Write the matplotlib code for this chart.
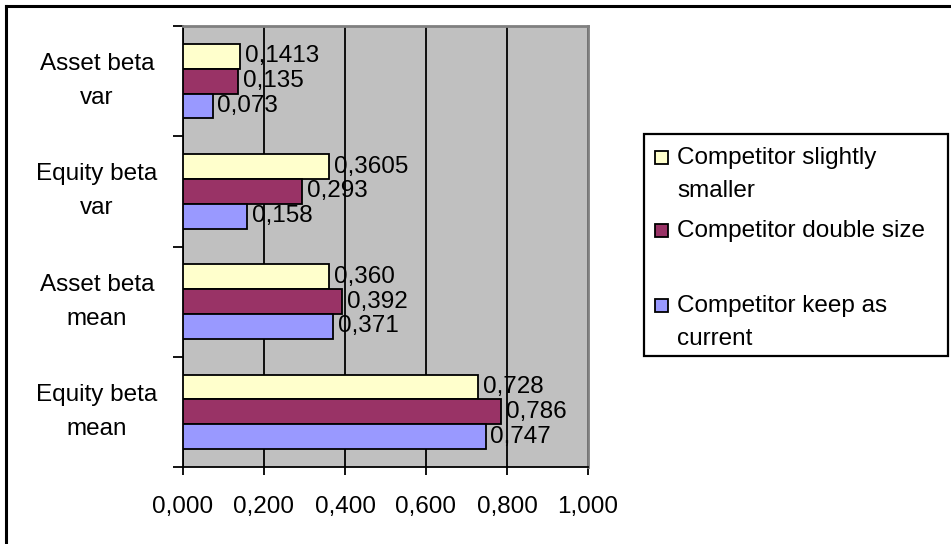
import numpy as np
import matplotlib.pyplot as plt
from matplotlib.patches import Rectangle
from matplotlib.lines import Line2D

plt.rcParams['font.family'] = ['Liberation Sans', 'DejaVu Sans']

categories = ['Equity beta\nmean', 'Asset beta\nmean', 'Equity beta\nvar', 'Asset beta\nvar']
series_names = ['Competitor slightly\nsmaller', 'Competitor double size', 'Competitor keep as\ncurrent']
colors = ['#FFFFCC', '#993366', '#9999FF']
smaller = [0.728, 0.360, 0.3605, 0.1413]
double = [0.786, 0.392, 0.293, 0.135]
keep = [0.747, 0.371, 0.158, 0.073]
smaller_lbl = ['0,728', '0,360', '0,3605', '0,1413']
double_lbl = ['0,786', '0,392', '0,293', '0,135']
keep_lbl = ['0,747', '0,371', '0,158', '0,073']
xticks = [0.0, 0.2, 0.4, 0.6, 0.8, 1.0]

W, H = 951, 544
fs = 17.5
fig = plt.figure(figsize=(W / 100, H / 100), dpi=100)

def fx(px):
    return px / W

def fy(py):
    return 1 - py / H

# outer chart frame (only top and left edges show)
fig.add_artist(Line2D([fx(6), fx(6)], [0, fy(6)], color='black', lw=2.2))
fig.add_artist(Line2D([fx(6), 1], [fy(6), fy(6)], color='black', lw=2.2))

ax = fig.add_axes([fx(183), fy(467), fx(588) - fx(183), fy(26) - fy(467)])
ax.set_facecolor('#C0C0C0')

y = np.arange(len(categories))
h = 0.225
offsets = [h, 0, -h]
data = [smaller, double, keep]
labels = [smaller_lbl, double_lbl, keep_lbl]
for vals, lbls, off, c, name in zip(data, labels, offsets, colors, series_names):
    bars = ax.barh(y + off, vals, height=h, color=c, edgecolor='black', lw=1.3,
                   label=name, zorder=3)
    for b, t in zip(bars, lbls):
        ax.text(b.get_width() + 0.012, b.get_y() + b.get_height() / 2, t,
                va='center', ha='left', fontsize=fs, zorder=4)

ax.set_xlim(0, 1.0)
ax.set_ylim(-0.5, len(categories) - 0.5)
ax.set_xticks(xticks)
ax.set_xticklabels(['{:.3f}'.format(v).replace('.', ',') for v in xticks], fontsize=fs)
ax.xaxis.grid(True, color='black', lw=1.3)
ax.set_axisbelow(True)

ax.set_yticks(np.arange(-0.5, len(categories), 1.0))
ax.set_yticklabels([])
ax.set_yticks(y, minor=True)
ax.set_yticklabels(categories, minor=True, fontsize=fs, ha='center', va='center',
                   linespacing=1.7)
ax.tick_params(axis='y', which='minor', length=0, pad=62)
ax.tick_params(axis='y', which='major', length=7, width=1.3, direction='out')
ax.tick_params(axis='x', length=6, width=1.3, direction='out', pad=15)

ax.spines['left'].set_linewidth(1.3)
ax.spines['bottom'].set_linewidth(1.3)
for s in ['top', 'right']:
    ax.spines[s].set_color('#808080')
    ax.spines[s].set_linewidth(2)

# legend box drawn by hand to follow the original spacing
fig.add_artist(Rectangle((fx(644), fy(356)), fx(948) - fx(644), fy(134) - fy(356),
                         transform=fig.transFigure, fill=False, edgecolor='black', lw=1.6))
first_line_y = [158, 231, 306]
for name, c, ly in zip(series_names, colors, first_line_y):
    fig.add_artist(Rectangle((fx(655), fy(ly + 6)), fx(668) - fx(655), fy(ly - 7) - fy(ly + 6),
                             transform=fig.transFigure, facecolor=c, edgecolor='black', lw=1.3))
    for i, line in enumerate(name.split('\n')):
        fig.text(fx(677), fy(ly + 33 * i), line, fontsize=fs, va='center', ha='left')

fig.savefig('out.png', dpi=100)
